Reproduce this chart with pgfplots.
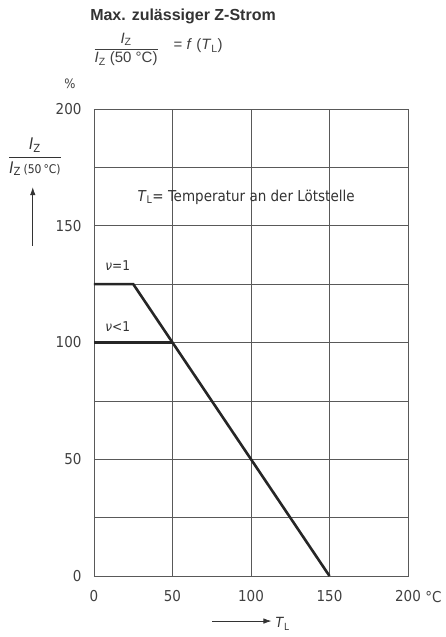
\documentclass[border=0pt]{standalone}
\usepackage{amsmath}
\usepackage{fontspec}
\setmainfont{DejaVu Sans Condensed}
\newfontfamily\titlefont{Liberation Sans}
\usepackage{pgfplots}
\pgfplotsset{compat=1.18}
\usetikzlibrary{arrows.meta}
\newcommand{\TL}{\textit{T}\textsubscript{L}}
\newcommand{\IZ}{\textit{I}\textsubscript{Z}}
\begin{document}
\begin{tikzpicture}
\begin{axis}[
  scale only axis,
  width=314pt, height=467pt,
  xmin=0, xmax=200, ymin=0, ymax=200,
  xtick={0,50,100,150,200},
  ytick={0,50,100,150,200},
  minor ytick={25,75,125,175},
  grid=both,
  major grid style={black!65, line width=0.7pt},
  minor grid style={black!65, line width=0.7pt},
  axis line style={black!65, line width=0.7pt},
  major tick length=0pt, minor tick length=0pt,
  /pgf/number format/assume math mode=true,
  ticklabel style={font=\fontsize{15}{16}\selectfont, text=black!75},
  xticklabel style={yshift=-11pt},
  yticklabel style={xshift=-9pt},
  clip=false,
]
\addplot[black!85, line width=2.6pt] coordinates {(0,125) (25,125) (150,0)};
\addplot[black!85, line width=2.6pt] coordinates {(0,100) (50,100)};
% texts
\node[anchor=west, font=\fontsize{13.5}{14}\selectfont, text=black!80] at (axis cs:5,133) {\textit{ν}=1};
\node[anchor=west, font=\fontsize{13.5}{14}\selectfont, text=black!80] at (axis cs:5,106.8) {\textit{ν}<1};
\node[anchor=west, font=\fontsize{15}{16}\selectfont, text=black!80] at (axis cs:25.5,162.3) {\TL= Temperatur an der Lötstelle};
\node[anchor=west, font=\fontsize{15}{16}\selectfont, text=black!75, inner sep=0pt] at (axis cs:211,-9) {°C};
\node[font=\fontsize{13}{14}\selectfont, text=black!75] at (axis cs:-15.3,211) {\%};
\node[font=\fontsize{16}{17}\selectfont, text=black!80] at (axis cs:-37.6,179.5) {$\dfrac{\mbox{\IZ}}{\mbox{\IZ\,{\fontsize{12}{13}\selectfont(50\,°C)}}}$};
\draw[-{Latex[length=8pt,width=5.5pt]}, black!80, line width=0.7pt] (axis cs:-39,141.5) -- (axis cs:-39,166.5);
\draw[-{Latex[length=8pt,width=5.5pt]}, black!80, line width=0.7pt] (axis cs:75.2,-19.3) -- (axis cs:113,-19.3);
\node[anchor=west, font=\fontsize{14}{15}\selectfont, text=black!80] at (axis cs:113.5,-20.5) {\TL};
\node[anchor=west, font=\titlefont\bfseries\fontsize{16}{17}\selectfont, text=black!80, inner sep=0pt] at (axis cs:-2.5,239.5) {Max. zulässiger Z-Strom};
\node[anchor=west, font=\titlefont\fontsize{15}{16}\selectfont, text=black!75, inner sep=0pt] at (axis cs:-0.5,225.5) {$\dfrac{\mbox{\IZ}}{\mbox{\IZ\;(50 °C)}}$\quad\raisebox{3pt}{= \textit{f} (\TL)}};
\end{axis}
\path (current axis.south west) ++(-94pt,-61pt) rectangle ++(446pt,637pt);
\end{tikzpicture}
\end{document}
